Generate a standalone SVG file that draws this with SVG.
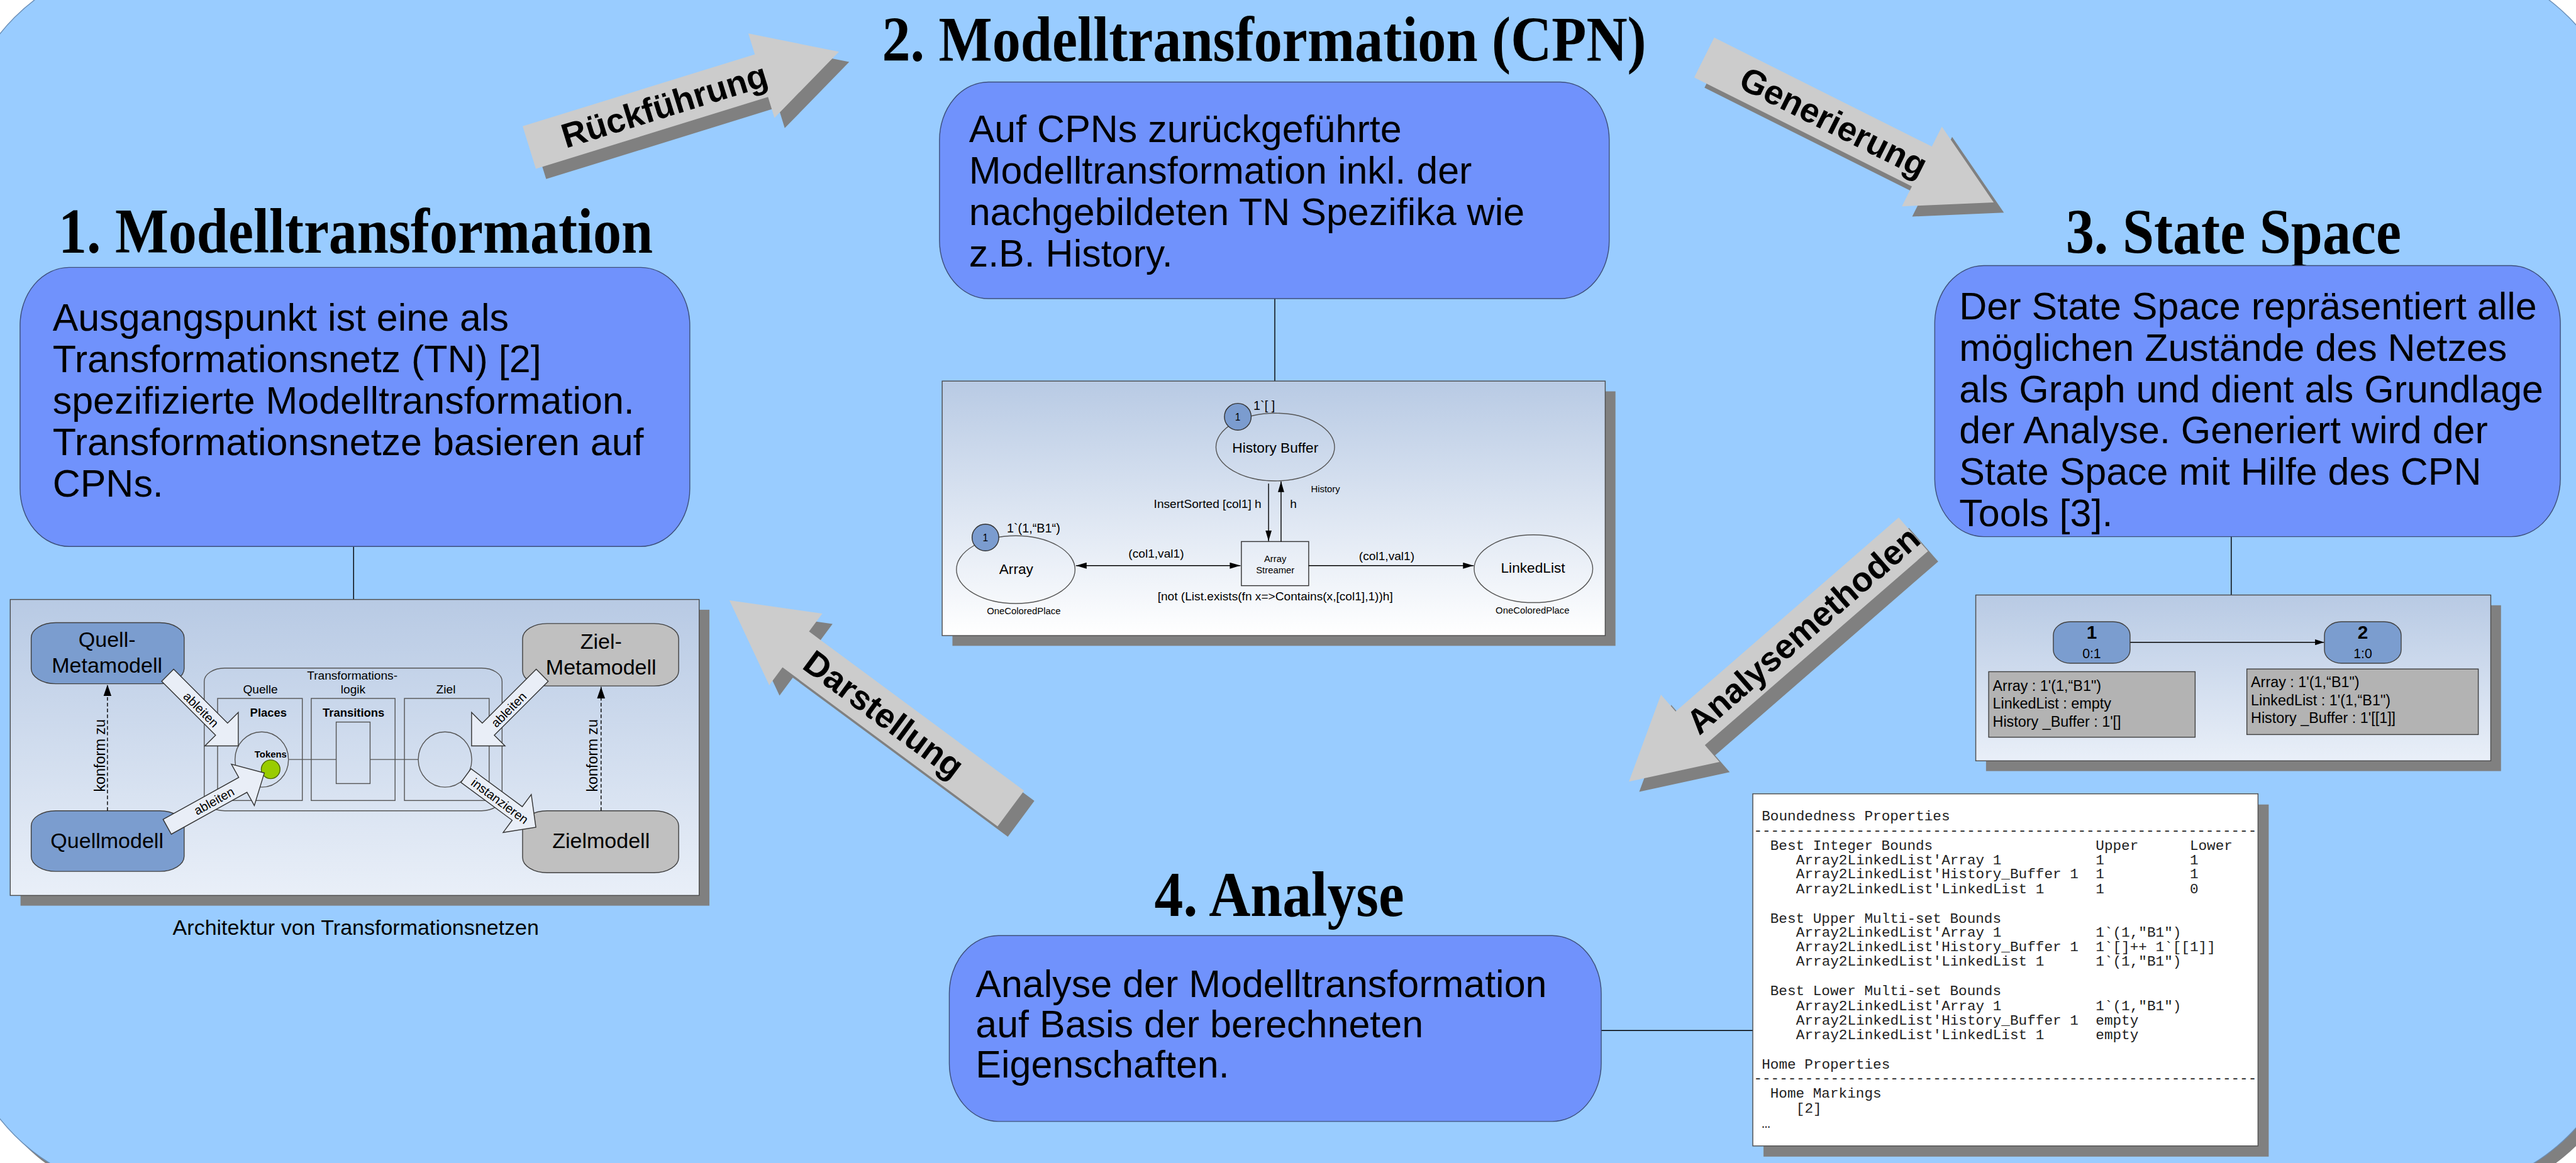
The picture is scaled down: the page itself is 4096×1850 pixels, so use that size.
<svg xmlns="http://www.w3.org/2000/svg" width="4096" height="1850" viewBox="0 0 4096 1850">
<defs>
<style>
.title{font-family:"Liberation Serif","Times New Roman",serif;font-weight:bold;font-size:142px;fill:#000}
.body{font-family:"Liberation Sans",Arial,sans-serif;font-size:86px;fill:#000}
.desc{fill:#7092fc;stroke:#3d4f7a;stroke-width:2}
.big{fill:#cccccc}
.bigsh{fill:#808080}
.blab{font-family:"Liberation Sans",Arial,sans-serif;font-weight:bold;font-size:77px;text-anchor:middle;dominant-baseline:central;fill:#000}
.panel{stroke:#4d4d4d;stroke-width:2}
.psh{fill:#808080}
.conn{stroke:#000;stroke-width:2;fill:none}
.sans{font-family:"Liberation Sans",Arial,sans-serif;fill:#000}
.mono{font-family:"Liberation Mono","Courier New",monospace;font-size:32px;fill:#222}
.qbox{fill:#7b9dcf;stroke:#404040;stroke-width:2}
.zbox{fill:#c0c0c0;stroke:#404040;stroke-width:2}
.hollow{fill:#e9eef7;stroke:#333;stroke-width:2}
.thin{stroke:#555;stroke-width:2;fill:none}
.place{fill:none;stroke:#555;stroke-width:2}
.tok{fill:#7b9ccf;stroke:#333;stroke-width:2}
.arc{stroke:#000;stroke-width:2;fill:none}
.gbox{fill:#b3b3b3;stroke:#404040;stroke-width:2}
</style>
<linearGradient id="gP" x1="0" y1="0" x2="0" y2="1"><stop offset="0" stop-color="#b8cae4"/><stop offset="1" stop-color="#e9eff8"/></linearGradient>
<linearGradient id="gPW" x1="0" y1="0" x2="0" y2="1"><stop offset="0" stop-color="#b8cae4"/><stop offset="1" stop-color="#ffffff"/></linearGradient>
<marker id="mA" markerWidth="24" markerHeight="14" refX="24" refY="7" orient="auto" markerUnits="userSpaceOnUse"><path d="M0,0 L24,7 L0,14 z" fill="#000"/></marker>
<marker id="mAS" markerWidth="24" markerHeight="14" refX="24" refY="7" orient="auto-start-reverse" markerUnits="userSpaceOnUse"><path d="M0,0 L24,7 L0,14 z" fill="#000"/></marker>
<marker id="mK" markerWidth="26" markerHeight="18" refX="26" refY="9" orient="auto" markerUnits="userSpaceOnUse"><path d="M0,0 L26,9 L0,18 z" fill="#000"/></marker>
<marker id="mS" markerWidth="20" markerHeight="13" refX="20" refY="6.5" orient="auto" markerUnits="userSpaceOnUse"><path d="M0,0 L20,6.5 L0,13 z" fill="#000"/></marker>
</defs>
<rect x="0" y="0" width="4096" height="1850" fill="#ffffff"/>
<g transform="scale(0.709)">

<!-- background -->
<g id="background">
<rect x="-76" y="-70" width="5986" height="2766" rx="440" ry="440" fill="#808080"/>
<rect x="-96" y="-90" width="5986" height="2766" rx="440" ry="440" fill="#99ccff" stroke="#6b8fb8" stroke-width="2"/>
</g>

<!-- big gray process arrows -->
<g id="arrow-rueckfuehrung">
<g transform="translate(1210,354) rotate(-17.2)"><polygon class="bigsh" points="0,-50 545,-50 545,-99 727,0 545,99 545,50 0,50"/></g>
<g transform="translate(1187,331) rotate(-17.2)"><polygon class="big" points="0,-50 545,-50 545,-99 727,0 545,99 545,50 0,50"/></g>
<text class="blab" transform="translate(1490,237) rotate(-17.2)">Rückführung</text>
</g>
<g id="arrow-generierung">
<g transform="translate(3845,152) rotate(26.6)"><polygon class="bigsh" points="0,-50 546,-50 546,-100 726,0 546,100 546,50 0,50"/></g>
<g transform="translate(3822,129) rotate(26.6)"><polygon class="big" points="0,-50 546,-50 546,-100 726,0 546,100 546,50 0,50"/></g>
<text class="blab" transform="translate(4112,274) rotate(26.6)">Generierung</text>
</g>
<g id="arrow-analysemethoden">
<g transform="translate(4314,1222) rotate(139)"><polygon class="bigsh" points="0,-50 663,-50 663,-100 845,0 663,100 663,50 0,50"/></g>
<g transform="translate(4291,1199) rotate(139)"><polygon class="big" points="0,-50 663,-50 663,-100 845,0 663,100 663,50 0,50"/></g>
<text class="blab" transform="translate(4044,1414) rotate(-41)">Analysemethoden</text>
</g>
<g id="arrow-darstellung">
<g transform="translate(2290,1837) rotate(216.5)"><polygon class="bigsh" points="0,-50 600,-50 600,-100 785,0 600,100 600,50 0,50"/></g>
<g transform="translate(2267,1814) rotate(216.5)"><polygon class="big" points="0,-50 600,-50 600,-100 785,0 600,100 600,50 0,50"/></g>
<text class="blab" transform="translate(1982,1603) rotate(36.5)">Darstellung</text>
</g>

<!-- connectors from description boxes to panels -->
<g id="connectors">
<line class="conn" x1="793" y1="1226" x2="793" y2="1345"/>
<line class="conn" x1="2859" y1="670" x2="2859" y2="855"/>
<line class="conn" x1="5004" y1="1204" x2="5004" y2="1335"/>
<line class="conn" x1="3591" y1="2312" x2="3931" y2="2312"/>
</g>

<!-- Titles -->
<text class="title" x="131" y="567" textLength="1333" lengthAdjust="spacingAndGlyphs">1. Modelltransformation</text>
<text class="title" x="1978" y="137" textLength="1714" lengthAdjust="spacingAndGlyphs">2. Modelltransformation (CPN)</text>
<text class="title" x="4633" y="569" textLength="752" lengthAdjust="spacingAndGlyphs">3. State Space</text>
<text class="title" x="2589" y="2055" textLength="560" lengthAdjust="spacingAndGlyphs">4. Analyse</text>

<!-- Description boxes -->
<g id="box1">
<rect class="desc" x="45" y="600" width="1502" height="626" rx="110" ry="130"/>
<text class="body" x="118" y="742">Ausgangspunkt ist eine als</text>
<text class="body" x="118" y="835">Transformationsnetz (TN) [2]</text>
<text class="body" x="118" y="928">spezifizierte Modelltransformation.</text>
<text class="body" x="118" y="1021">Transformationsnetze basieren auf</text>
<text class="body" x="118" y="1114">CPNs.</text>
</g>
<g id="box2">
<rect class="desc" x="2107" y="184" width="1502" height="486" rx="110" ry="130"/>
<text class="body" x="2173" y="319">Auf CPNs zurückgeführte</text>
<text class="body" x="2173" y="412">Modelltransformation inkl. der</text>
<text class="body" x="2173" y="505">nachgebildeten TN Spezifika wie</text>
<text class="body" x="2173" y="598">z.B. History.</text>
</g>
<g id="box3">
<rect class="desc" x="4339" y="596" width="1403" height="608" rx="110" ry="130"/>
<text class="body" x="4394" y="716">Der State Space repräsentiert alle</text>
<text class="body" x="4394" y="809">möglichen Zustände des Netzes</text>
<text class="body" x="4394" y="902">als Graph und dient als Grundlage</text>
<text class="body" x="4394" y="995">der Analyse. Generiert wird der</text>
<text class="body" x="4394" y="1088">State Space mit Hilfe des CPN</text>
<text class="body" x="4394" y="1181">Tools [3].</text>
</g>
<g id="box4">
<rect class="desc" x="2129" y="2099" width="1462" height="417" rx="110" ry="130"/>
<text class="body" x="2188" y="2237">Analyse der Modelltransformation</text>
<text class="body" x="2188" y="2327">auf Basis der berechneten</text>
<text class="body" x="2188" y="2417">Eigenschaften.</text>
</g>

<!-- Panel 1: Architektur von Transformationsnetzen -->
<g id="panel1">
<rect class="psh" x="46" y="1368" width="1545" height="664"/>
<rect class="panel" x="23" y="1345" width="1545" height="664" fill="url(#gP)"/>
<rect class="thin" x="458" y="1499" width="668" height="320" rx="46" ry="30"/>
<rect class="thin" x="488" y="1567" width="190" height="229"/>
<rect class="thin" x="698" y="1567" width="188" height="229"/>
<rect class="thin" x="907" y="1567" width="190" height="229"/>
<text class="sans" x="790" y="1524" font-size="27" text-anchor="middle">Transformations-</text>
<text class="sans" x="792" y="1556" font-size="27" text-anchor="middle">logik</text>
<text class="sans" x="584" y="1556" font-size="27" text-anchor="middle">Quelle</text>
<text class="sans" x="1000" y="1556" font-size="27" text-anchor="middle">Ziel</text>
<text class="sans" x="602" y="1608" font-size="26" font-weight="bold" text-anchor="middle">Places</text>
<text class="sans" x="793" y="1608" font-size="26" font-weight="bold" text-anchor="middle">Transitions</text>
<line class="thin" x1="648" y1="1704" x2="754" y2="1704"/>
<line class="thin" x1="830" y1="1704" x2="938" y2="1704"/>
<ellipse class="thin" cx="587" cy="1704" rx="60" ry="62"/>
<rect class="thin" x="754" y="1620" width="76" height="138"/>
<ellipse class="thin" cx="998" cy="1704" rx="60" ry="62"/>
<text class="sans" x="607" y="1699" font-size="21" font-weight="bold" text-anchor="middle">Tokens</text>
<circle cx="607" cy="1726" r="21" fill="#99cc00" stroke="#4d6600" stroke-width="2"/>
<g id="quell-metamodell"><rect class="qbox" x="70" y="1397" width="343" height="137" rx="55" ry="34"/>
<text class="sans" x="240" y="1452" font-size="48" text-anchor="middle">Quell-</text>
<text class="sans" x="240" y="1509" font-size="48" text-anchor="middle">Metamodell</text></g>
<g id="quellmodell"><rect class="qbox" x="70" y="1819" width="343" height="136" rx="55" ry="34"/>
<text class="sans" x="240" y="1902" font-size="48" text-anchor="middle">Quellmodell</text></g>
<g id="ziel-metamodell"><rect class="zbox" x="1172" y="1399" width="350" height="140" rx="55" ry="34"/>
<text class="sans" x="1348" y="1455" font-size="48" text-anchor="middle">Ziel-</text>
<text class="sans" x="1348" y="1513" font-size="48" text-anchor="middle">Metamodell</text></g>
<g id="zielmodell"><rect class="zbox" x="1172" y="1819" width="350" height="139" rx="55" ry="34"/>
<text class="sans" x="1348" y="1903" font-size="48" text-anchor="middle">Zielmodell</text></g>
<line x1="241" y1="1819" x2="241" y2="1536" stroke="#000" stroke-width="2" stroke-dasharray="8,5" marker-end="url(#mK)"/>
<line x1="1348" y1="1819" x2="1348" y2="1541" stroke="#000" stroke-width="2" stroke-dasharray="8,5" marker-end="url(#mK)"/>
<text class="sans" font-size="33" text-anchor="middle" transform="translate(235,1695) rotate(-90)">konform zu</text>
<text class="sans" font-size="33" text-anchor="middle" transform="translate(1340,1695) rotate(-90)">konform zu</text>
<g transform="translate(376,1515) rotate(45)"><polygon class="hollow" points="0,-19 171,-19 171,-53 224,0 171,53 171,19 0,19"/></g>
<text class="sans" font-size="28" text-anchor="middle" dominant-baseline="central" transform="translate(451,1592) rotate(45)">ableiten</text>
<g transform="translate(375,1855) rotate(-29)"><polygon class="hollow" points="0,-19 194,-19 194,-53 249,0 194,53 194,19 0,19"/></g>
<text class="sans" font-size="28" text-anchor="middle" dominant-baseline="central" transform="translate(480,1797) rotate(-29)">ableiten</text>
<g transform="translate(1216,1515) rotate(135)"><polygon class="hollow" points="0,-19 171,-19 171,-53 224,0 171,53 171,19 0,19"/></g>
<text class="sans" font-size="28" text-anchor="middle" dominant-baseline="central" transform="translate(1141,1592) rotate(-45)">ableiten</text>
<g transform="translate(1045,1740) rotate(36.5)"><polygon class="hollow" points="0,-19 143,-19 143,-53 195,0 143,53 143,19 0,19"/></g>
<text class="sans" font-size="28" text-anchor="middle" dominant-baseline="central" transform="translate(1121,1797) rotate(36.5)">instanzieren</text>
<text class="sans" x="798" y="2098" font-size="48" text-anchor="middle">Architektur von Transformationsnetzen</text>
</g>

<!-- Panel 2: CPN -->
<g id="panel2">
<rect class="psh" x="2136" y="878" width="1487" height="571"/>
<rect class="panel" x="2113" y="855" width="1487" height="571" fill="url(#gPW)"/>
<ellipse class="place" cx="2860" cy="1003" rx="133" ry="76"/>
<ellipse class="place" cx="2278" cy="1278" rx="133" ry="76"/>
<ellipse class="place" cx="3439" cy="1276" rx="133" ry="76"/>
<rect x="2784" y="1215" width="151" height="99" fill="none" stroke="#333" stroke-width="2"/>
<line class="arc" x1="2413" y1="1269" x2="2782" y2="1269" marker-start="url(#mAS)" marker-end="url(#mAS)"/>
<line class="arc" x1="2935" y1="1269" x2="3305" y2="1269" marker-end="url(#mA)"/>
<line class="arc" x1="2845" y1="1085" x2="2845" y2="1214" marker-end="url(#mA)"/>
<line class="arc" x1="2873" y1="1215" x2="2873" y2="1080" marker-end="url(#mA)"/>
<circle class="tok" cx="2776" cy="935" r="30"/>
<text class="sans" x="2776" y="943" font-size="22" text-anchor="middle">1</text>
<circle class="tok" cx="2210" cy="1206" r="30"/>
<text class="sans" x="2210" y="1214" font-size="22" text-anchor="middle">1</text>
<text class="sans" x="2811" y="920" font-size="28">1`[ ]</text>
<text class="sans" x="2258" y="1194" font-size="28">1`(1,“B1“)</text>
<text class="sans" x="2860" y="1016" font-size="32" text-anchor="middle">History Buffer</text>
<text class="sans" x="2279" y="1288" font-size="32" text-anchor="middle">Array</text>
<text class="sans" x="3438" y="1285" font-size="32" text-anchor="middle">LinkedList</text>
<text class="sans" x="2860" y="1261" font-size="21" text-anchor="middle">Array</text>
<text class="sans" x="2860" y="1286" font-size="21" text-anchor="middle">Streamer</text>
<text class="sans" x="2593" y="1251" font-size="27" text-anchor="middle">(col1,val1)</text>
<text class="sans" x="3110" y="1257" font-size="27" text-anchor="middle">(col1,val1)</text>
<text class="sans" x="2860" y="1347" font-size="27" text-anchor="middle">[not (List.exists(fn x=&gt;Contains(x,[col1],1))h]</text>
<text class="sans" x="2829" y="1140" font-size="27" text-anchor="end">InsertSorted [col1] h</text>
<text class="sans" x="2893" y="1140" font-size="27">h</text>
<text class="sans" x="2940" y="1104" font-size="21">History</text>
<text class="sans" x="2296" y="1378" font-size="21" text-anchor="middle">OneColoredPlace</text>
<text class="sans" x="3437" y="1376" font-size="21" text-anchor="middle">OneColoredPlace</text>
</g>

<!-- Panel 3: State space -->
<g id="panel3">
<rect class="psh" x="4454" y="1358" width="1155" height="372"/>
<rect class="panel" x="4431" y="1335" width="1155" height="372" fill="url(#gP)"/>
<line class="arc" x1="4777" y1="1441" x2="5212" y2="1441" marker-end="url(#mS)"/>
<g id="ss-node1"><rect class="qbox" x="4605" y="1395" width="172" height="93" rx="38" ry="30"/>
<text class="sans" x="4691" y="1433" font-size="42" font-weight="bold" text-anchor="middle">1</text>
<text class="sans" x="4691" y="1477" font-size="30" text-anchor="middle">0:1</text></g>
<g id="ss-node2"><rect class="qbox" x="5213" y="1395" width="172" height="93" rx="38" ry="30"/>
<text class="sans" x="5299" y="1433" font-size="42" font-weight="bold" text-anchor="middle">2</text>
<text class="sans" x="5299" y="1477" font-size="30" text-anchor="middle">1:0</text></g>
<rect class="gbox" x="4460" y="1507" width="463" height="147"/>
<text class="sans" x="4469" y="1550" font-size="33">Array : 1'(1,“B1")</text>
<text class="sans" x="4469" y="1590" font-size="33">LinkedList : empty</text>
<text class="sans" x="4469" y="1630" font-size="33">History _Buffer : 1'[]</text>
<rect class="gbox" x="5039" y="1501" width="519" height="147"/>
<text class="sans" x="5048" y="1542" font-size="33">Array : 1'(1,“B1")</text>
<text class="sans" x="5048" y="1582" font-size="33">LinkedList : 1'(1,“B1")</text>
<text class="sans" x="5048" y="1622" font-size="33">History _Buffer : 1'[[1]]</text>
</g>

<!-- Panel 4: analysis report -->
<g id="panel4">
<rect class="psh" x="3955" y="1805" width="1133" height="790"/>
<rect class="panel" x="3931" y="1781" width="1133" height="790" fill="#ffffff"/>
<text class="mono" x="3951" y="1840">Boundedness Properties</text>
<text class="mono" x="3933" y="1873" textLength="1128" lengthAdjust="spacing">-----------------------------------------------------------</text>
<text class="mono" x="3970" y="1907">Best Integer Bounds</text>
<text class="mono" x="4700" y="1907">Upper</text>
<text class="mono" x="4911" y="1907">Lower</text>
<text class="mono" x="4028" y="1939">Array2LinkedList'Array 1</text>
<text class="mono" x="4700" y="1939">1</text><text class="mono" x="4911" y="1939">1</text>
<text class="mono" x="4028" y="1971">Array2LinkedList'History_Buffer 1</text>
<text class="mono" x="4700" y="1971">1</text><text class="mono" x="4911" y="1971">1</text>
<text class="mono" x="4028" y="2004">Array2LinkedList'LinkedList 1</text>
<text class="mono" x="4700" y="2004">1</text><text class="mono" x="4911" y="2004">0</text>
<text class="mono" x="3970" y="2070">Best Upper Multi-set Bounds</text>
<text class="mono" x="4028" y="2102">Array2LinkedList'Array 1</text>
<text class="mono" x="4700" y="2102">1`(1,"B1")</text>
<text class="mono" x="4028" y="2134">Array2LinkedList'History_Buffer 1</text>
<text class="mono" x="4700" y="2134">1`[]++ 1`[[1]]</text>
<text class="mono" x="4028" y="2167">Array2LinkedList'LinkedList 1</text>
<text class="mono" x="4700" y="2167">1`(1,"B1")</text>
<text class="mono" x="3970" y="2233">Best Lower Multi-set Bounds</text>
<text class="mono" x="4028" y="2267">Array2LinkedList'Array 1</text>
<text class="mono" x="4700" y="2267">1`(1,"B1")</text>
<text class="mono" x="4028" y="2299">Array2LinkedList'History_Buffer 1</text>
<text class="mono" x="4700" y="2299">empty</text>
<text class="mono" x="4028" y="2332">Array2LinkedList'LinkedList 1</text>
<text class="mono" x="4700" y="2332">empty</text>
<text class="mono" x="3951" y="2398">Home Properties</text>
<text class="mono" x="3933" y="2429" textLength="1128" lengthAdjust="spacing">-----------------------------------------------------------</text>
<text class="mono" x="3970" y="2463">Home Markings</text>
<text class="mono" x="4028" y="2496">[2]</text>
<text class="mono" x="3951" y="2530">…</text>
</g>

</g>
</svg>
